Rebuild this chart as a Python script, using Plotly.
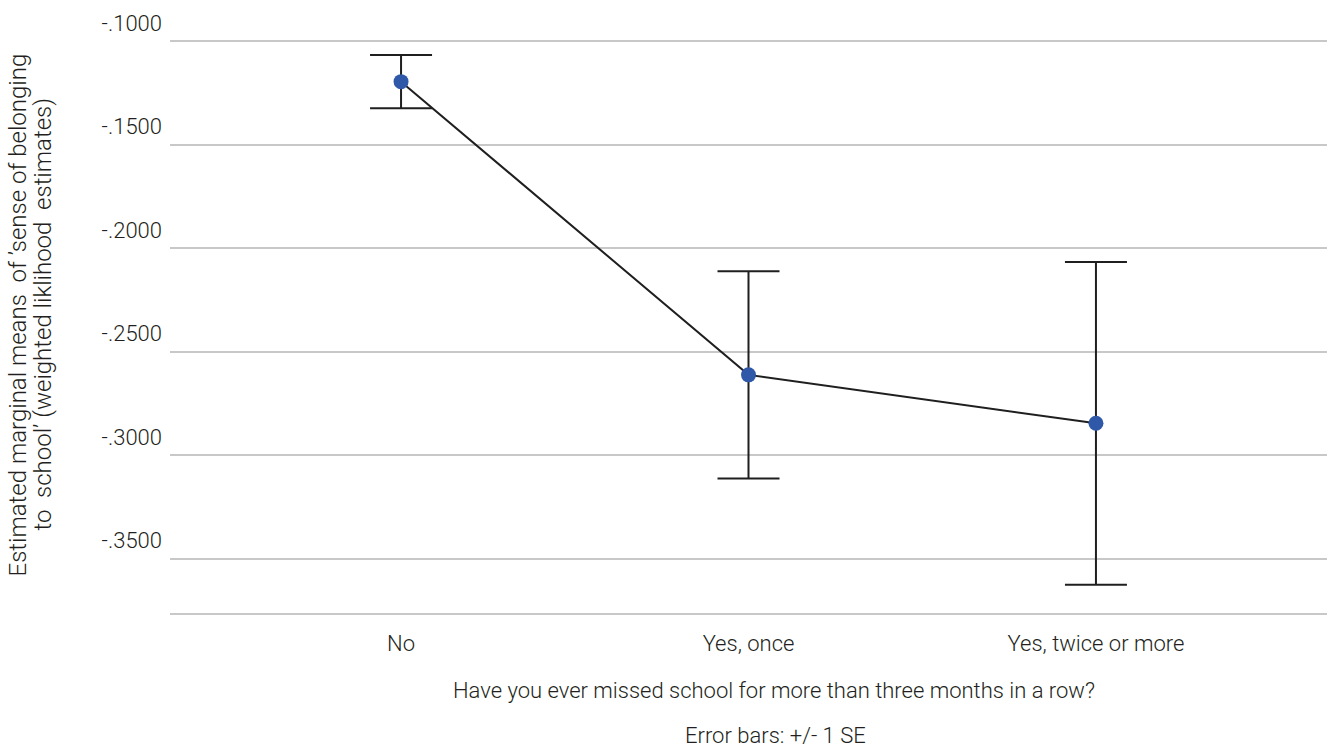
import plotly.graph_objects as go

# Estimated marginal means of "sense of belonging" by school-absence group
categories = ["No", "Yes, once", "Yes, twice or more"]
means = [-0.1196, -0.2612, -0.2846]
std_errors = [0.0129, 0.0500, 0.0779]

y_ticks = [-0.10, -0.15, -0.20, -0.25, -0.30, -0.35]
y_tick_labels = ["-.1000", "-.1500", "-.2000", "-.2500", "-.3000", "-.3500"]

y_title_lines = [
    "Estimated marginal means  of ’sense of belonging",
    "to  school’ (weighted liklihood  estimates)",
]
x_title = "Have you ever missed school for more than three months in a row?"
footnote = "Error bars: +/- 1 SE"

FONT = "Roboto, 'Liberation Sans', Arial, sans-serif"
TEXT = "#231f20"
GRID = "#c8c8c8"

fig = go.Figure()
fig.add_trace(go.Scatter(
    x=categories,
    y=means,
    mode="lines+markers",
    line=dict(color="#1f1f1f", width=2),
    marker=dict(color="#2f58a8", size=15),
    error_y=dict(type="data", array=std_errors, visible=True,
                 color="#1f1f1f", thickness=2, width=31),
    showlegend=False,
    hoverinfo="skip",
))


def text_font(size):
    return dict(family=FONT, size=size, color=TEXT, weight=300)


annotations = []
# rotated two-line y-axis title, one annotation per line
for line, x_pos in zip(y_title_lines, [-0.1314, -0.1106]):
    annotations.append(dict(
        text=line, xref="paper", yref="paper", x=x_pos, y=0.52,
        textangle=-90, showarrow=False, xanchor="center", yanchor="middle",
        font=text_font(24)))
annotations.append(dict(
    text=x_title, xref="paper", yref="paper", x=0.522, y=-0.135,
    showarrow=False, xanchor="center", yanchor="middle", font=text_font(22)))
annotations.append(dict(
    text=footnote, xref="paper", yref="paper", x=0.523, y=-0.213,
    showarrow=False, xanchor="center", yanchor="middle", font=text_font(22)))

fig.update_layout(
    width=1333, height=751,
    margin=dict(l=170, r=6, t=39, b=138),
    paper_bgcolor="white", plot_bgcolor="white",
    font=text_font(22),
    xaxis=dict(
        type="category",
        range=[-0.665, 2.665],
        showgrid=False,
        showline=True, linecolor=GRID, linewidth=1.5,
        ticks="", ticklabelstandoff=10,
        tickfont=text_font(22),
    ),
    yaxis=dict(
        range=[-0.3762, -0.099],
        tickvals=y_ticks, ticktext=y_tick_labels,
        showgrid=True, gridcolor=GRID, gridwidth=1.5,
        zeroline=False, showline=False, ticks="",
        ticklabelshift=-18, ticklabelstandoff=7,
        tickfont=text_font(22),
    ),
    annotations=annotations,
)

fig.write_html("out.html")
